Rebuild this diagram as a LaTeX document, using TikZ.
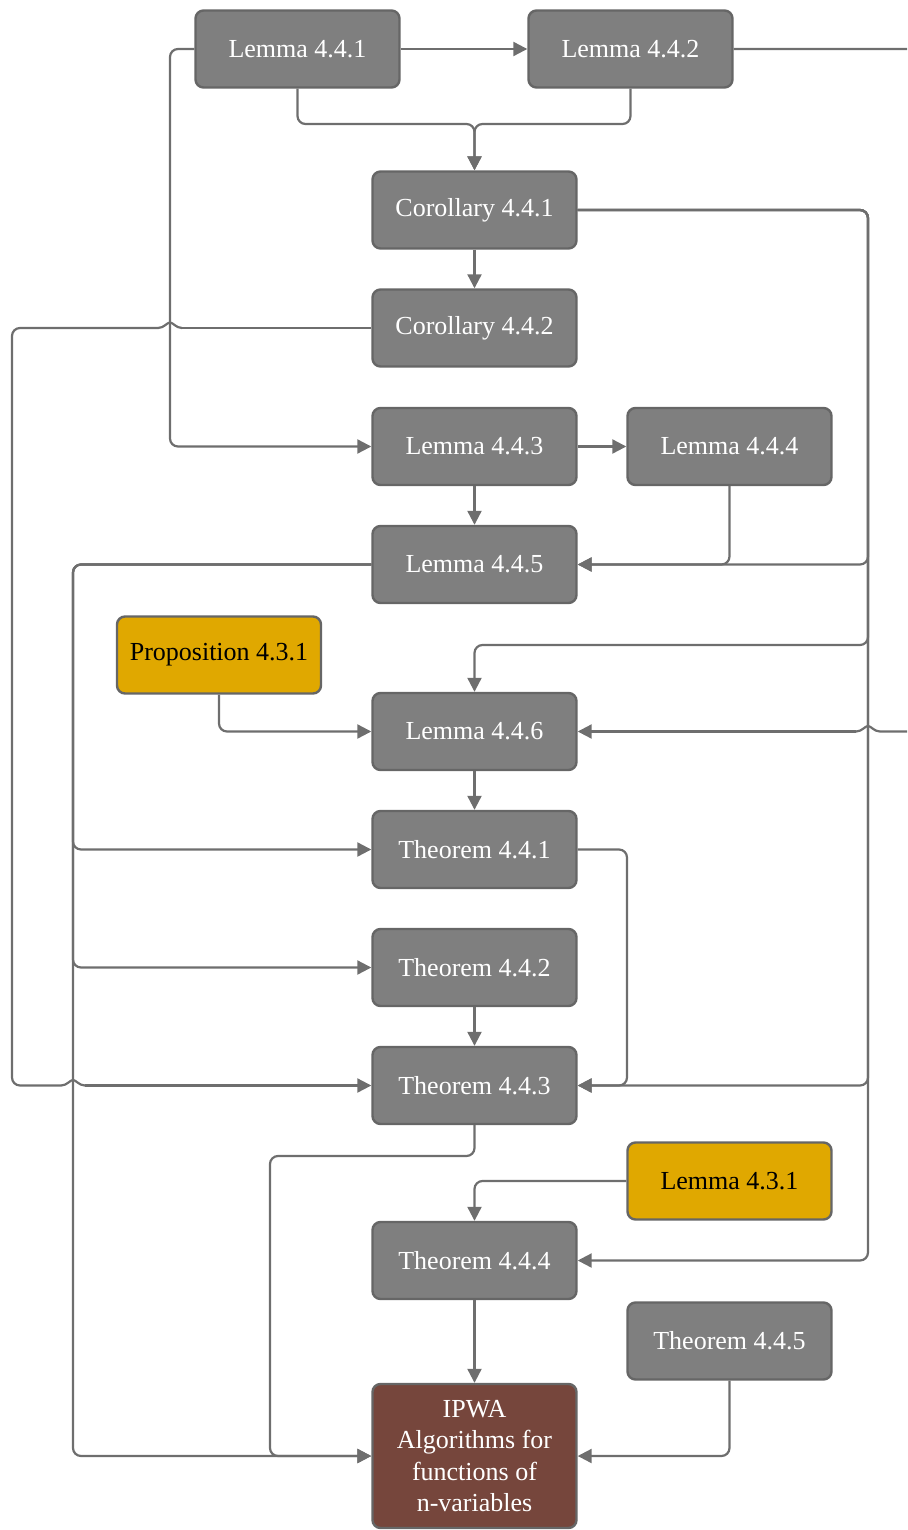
\documentclass[tikz,border=0pt]{standalone}
\usepackage{fontspec}
\setmainfont{Liberation Serif}
\newfontfamily\boxfont{Liberation Serif}
\usetikzlibrary{arrows.meta}
\definecolor{boxgray}{HTML}{7F7F7F}
\definecolor{edgegray}{HTML}{666666}
\definecolor{linegray}{HTML}{6E6E6E}
\definecolor{goldfill}{HTML}{E0A800}
\definecolor{ipwabrown}{HTML}{76463C}
\begin{document}
\begin{tikzpicture}[x=0.5pt,y=-0.5pt,
  box/.style={draw=edgegray, line width=1.2pt, rounded corners=4pt,
    minimum width=102pt, minimum height=38.5pt, inner sep=0pt,
    font=\boxfont\fontsize{13}{15.75}\selectfont, align=center},
  graybox/.style={box, fill=boxgray, text=white},
  goldbox/.style={box, fill=goldfill, text=black},
  conn/.style={draw=linegray, line width=1.1pt, rounded corners=4pt},
  hop/.style={draw=linegray, line width=1.1pt, sharp corners},
  arr/.style={conn, -{Triangle[length=7pt,width=7pt]}}]
\path[use as bounding box] (0,0) rectangle (907,1530);
\clip (0,0) rectangle (907,1530);

% nodes
\node[graybox] (L441) at (297.5,49) {Lemma 4.4.1};
\node[graybox] (L442) at (630.5,49) {Lemma 4.4.2};
\node[graybox] (C441) at (474.5,210) {Corollary 4.4.1};
\node[graybox] (C442) at (474.5,328) {Corollary 4.4.2};
\node[graybox] (L443) at (474.5,446.5) {Lemma 4.4.3};
\node[graybox] (L444) at (729.5,446.5) {Lemma 4.4.4};
\node[graybox] (L445) at (474.5,564.5) {Lemma 4.4.5};
\node[goldbox] (P431) at (219,655) {Proposition 4.3.1};
\node[graybox] (L446) at (474.5,731.5) {Lemma 4.4.6};
\node[graybox] (T441) at (474.5,849.5) {Theorem 4.4.1};
\node[graybox] (T442) at (474.5,967.5) {Theorem 4.4.2};
\node[graybox] (T443) at (474.5,1085.5) {Theorem 4.4.3};
\node[goldbox] (L431) at (729.5,1181) {Lemma 4.3.1};
\node[graybox] (T444) at (474.5,1260.5) {Theorem 4.4.4};
\node[graybox] (T445) at (729.5,1341) {Theorem 4.4.5};
\node[box, fill=ipwabrown, text=white, minimum height=72pt] (IPWA) at (474.5,1456)
  {IPWA\\Algorithms for\\functions of\\n-variables};

% hop points
\coordinate (h1a) at (880,731.5);
\coordinate (h1b) at (856,731.5);
\coordinate (h2a) at (182,328);
\coordinate (h2b) at (158,328);
\coordinate (h3a) at (61,1085.5);
\coordinate (h3b) at (85,1085.5);

% connectors
\draw[arr] (L441.east) -- (L442.west);
\draw[arr] (L441.south) -- (297.5,124) -- (474.5,124) -- (C441.north);
\draw[arr] (L442.south) -- (630.5,124) -- (474.5,124) -- (C441.north);
\draw[conn] (L442.east) -- (960,49) -- (960,731.5) -- (h1a);
\draw[hop] (h1a) .. controls (874,731.5) and (871,726) .. (868,726)
  .. controls (865,726) and (862,731.5) .. (h1b);
\draw[arr] (h1b) -- (L446.east);
\draw[arr] (L441.west) -- (170,49) -- (170,446.5) -- (L443.west);
\draw[arr] (C441) -- (C442);
\draw[arr] (C441.east) -- (868,210) -- (868,564.5) -- (L445.east);
\draw[arr] (C441.east) -- (868,210) -- (868,645) -- (474.5,645) -- (L446.north);
\draw[arr] (C441.east) -- (868,210) -- (868,1085.5) -- (T443.east);
\draw[arr] (C441.east) -- (868,210) -- (868,1260.5) -- (T444.east);
\draw[conn] (C442.west) -- (h2a);
\draw[hop] (h2a) .. controls (176,328) and (173,322.5) .. (170,322.5)
  .. controls (167,322.5) and (164,328) .. (h2b);
\draw[conn] (h2b) -- (12,328) -- (12,1085.5) -- (h3a);
\draw[hop] (h3a) .. controls (67,1085.5) and (70,1080) .. (73,1080)
  .. controls (76,1080) and (79,1085.5) .. (h3b);
\draw[arr] (h3b) -- (T443.west);
\draw[arr] (L443) -- (L444);
\draw[arr] (L443) -- (L445);
\draw[arr] (L444.south) -- (729.5,564.5) -- (L445.east);
\draw[arr] (L445.west) -- (73,564.5) -- (73,849.5) -- (T441.west);
\draw[arr] (L445.west) -- (73,564.5) -- (73,967.5) -- (T442.west);
\draw[arr] (L445.west) -- (73,564.5) -- (73,1456) -- (IPWA.west);
\draw[arr] (P431.south) -- (219,731.5) -- (L446.west);
\draw[arr] (L446) -- (T441);
\draw[arr] (T441.east) -- (627,849.5) -- (627,1085.5) -- (T443.east);
\draw[arr] (T442) -- (T443);
\draw[arr] (T443.south) -- (474.5,1156) -- (270,1156) -- (270,1456) -- (IPWA.west);
\draw[arr] (L431.west) -- (474.5,1181) -- (T444.north);
\draw[arr] (T444) -- (IPWA);
\draw[arr] (T445.south) -- (729.5,1456) -- (IPWA.east);
\end{tikzpicture}
\end{document}
